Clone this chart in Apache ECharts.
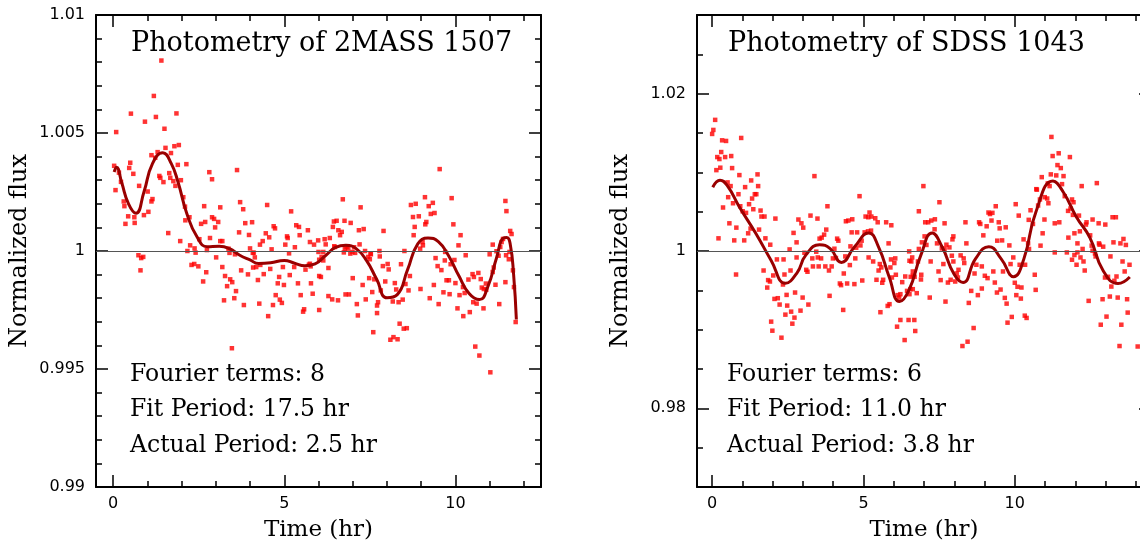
<!DOCTYPE html>
<html>
<head>
<meta charset="utf-8">
<script src="https://cdn.jsdelivr.net/npm/echarts@6/dist/echarts.min.js"></script>
<style>
html,body{margin:0;padding:0;background:#fff;}
#chart{width:1140px;height:544px;}
</style>
</head>
<body>
<div id="chart"></div>
<script>
// ---------------- DATA ----------------
// Left panel: 2MASS 1507 photometry (time in hr, normalized flux)
const leftTime = [1.41,1.19,0.52,1.85,1.25,0.93,1.50,0.09,1.53,1.79,1.92,1.69,1.30,1.12,1.23,1.89,2.14,0.03,0.50,0.47,0.17,0.23,0.07,0.59,0.76,1.35,1.38,1.47,1.64,1.67,1.76,1.82,1.98,2.81,2.89,3.62,1.01,0.31,0.33,0.62,0.63,0.36,0.44,0.90,1.03,1.12,1.15,2.05,2.10,2.11,2.23,1.61,1.96,2.17,2.25,2.38,2.41,2.52,2.57,2.66,2.69,2.83,2.74,2.89,2.95,3.07,2.98,3.13,3.13,3.19,3.01,3.37,3.56,3.68,3.71,3.80,3.86,3.97,4.00,4.06,4.11,4.14,4.29,4.37,4.50,4.46,4.56,4.63,4.69,4.73,5.03,5.08,5.10,5.14,5.20,5.31,5.35,5.43,5.45,5.69,5.75,5.87,5.99,6.00,
0.74,0.82,0.88,0.80,2.29,2.37,2.49,2.72,2.63,3.19,3.27,3.42,3.48,3.33,3.59,3.54,3.24,3.40,3.74,3.94,3.82,4.08,4.09,4.18,4.23,4.27,4.30,4.40,4.53,4.59,4.67,4.75,4.81,4.85,4.87,4.93,4.96,4.99,5.16,5.29,5.40,5.48,5.55,5.58,5.62,5.72,5.77,5.78,5.83,6.02,6.02,3.47,
9.54,6.71,7.23,8.70,8.84,9.11,9.22,9.34,9.28,9.39,8.76,8.93,9.89,9.94,8.81,8.78,9.15,9.12,10.15,10.09,10.30,11.46,11.49,11.60,11.64,11.39,11.35,11.09,11.31,11.20,11.26,11.00,6.42,6.45,6.53,6.76,6.94,6.58,6.68,6.63,7.18,7.32,7.90,6.18,6.33,6.48,6.77,6.87,6.74,7.20,7.04,6.99,6.93,7.07,7.36,7.52,7.45,7.78,8.51,8.97,9.05,6.14,6.09,9.04,
6.21,6.46,6.82,7.53,7.50,7.79,5.75,6.02,6.14,6.07,6.29,6.29,6.40,6.57,6.79,6.89,7.00,7.12,7.15,7.29,7.38,7.48,7.57,7.63,7.74,7.71,7.71,7.60,7.82,7.88,7.95,8.02,8.05,8.10,8.17,8.19,8.31,8.23,8.27,8.34,8.37,8.41,8.46,8.49,8.58,8.54,8.63,8.67,8.98,9.25,9.37,9.42,9.48,9.59,9.51,9.65,9.69,9.70,9.74,9.81,9.83,9.86,9.97,10.00,10.06,10.12,10.22,10.27,10.23,10.38,10.42,10.50,10.54,10.52,10.62,10.58,10.70,10.67,10.74,10.77,10.82,10.83,10.89,10.90,11.02,11.09,11.12,11.17,11.28,11.46,11.48,11.56,11.58,11.68,11.71,11.76];
const leftFlux = [1.00807,1.00657,1.00582,1.00583,1.00568,1.00548,1.00518,1.00504,1.00437,1.00444,1.00449,1.00415,1.00419,1.00406,1.00395,1.00365,1.00368,1.00361,1.00374,1.00352,1.00332,1.00293,1.00258,1.00327,1.00276,1.00318,1.00310,1.00292,1.00330,1.00310,1.00296,1.00276,1.00300,1.00334,1.00304,1.00343,1.00252,1.00210,1.00190,1.00143,1.00119,1.00115,1.00147,1.00152,1.00166,1.00210,1.00220,1.00228,1.00188,1.00130,1.00143,1.00076,1.00042,1.00000,1.00024,1.00011,0.99993,1.00050,1.00115,1.00190,1.00123,1.00055,1.00004,1.00143,1.00136,1.00123,1.00100,1.00185,1.00042,1.00042,0.99973,1.00010,0.99986,1.00079,1.00207,1.00177,1.00118,1.00068,1.00011,1.00122,0.99993,0.99973,1.00027,1.00042,1.00195,1.00075,1.00058,1.00007,1.00105,1.00096,1.00027,1.00062,1.00055,0.99990,1.00168,1.00016,1.00109,1.00102,1.00067,1.00088,1.00038,1.00027,1.00045,0.99996,
0.99982,0.99970,0.99975,0.99918,0.99941,0.99945,0.99935,0.99910,0.99871,0.99932,0.99894,0.99880,0.99868,0.99851,0.99830,0.99800,0.99791,0.99992,0.99918,0.99901,0.99771,0.99992,0.99930,0.99932,0.99877,0.99777,0.99941,0.99902,0.99724,0.99924,0.99771,0.99813,0.99863,0.99890,0.99794,0.99780,0.99932,0.99856,0.99898,0.99932,0.99863,0.99813,0.99743,0.99753,0.99921,0.99942,0.99935,0.99863,0.99819,0.99750,0.99894,0.99588,
1.00347,1.00219,1.00185,1.00195,1.00200,1.00228,1.00190,1.00204,1.00157,1.00161,1.00144,1.00147,1.00224,1.00113,1.00102,1.00067,1.00123,1.00113,1.00067,1.00024,0.99982,1.00212,1.00169,1.00085,1.00072,1.00051,1.00038,1.00027,1.00017,0.99999,0.99980,0.99986,1.00102,1.00125,1.00128,1.00128,1.00119,1.00088,1.00081,1.00067,1.00088,1.00093,1.00085,1.00050,1.00055,1.00017,1.00010,1.00010,0.99994,1.00028,1.00016,0.99996,0.99989,0.99992,1.00000,0.99989,0.99975,1.00000,1.00000,1.00010,1.00024,0.99996,0.99975,1.00038,
1.00028,1.00020,1.00017,0.99986,0.99965,0.99977,0.99946,0.99963,0.99960,0.99890,0.99928,0.99809,0.99795,0.99791,0.99816,0.99816,0.99885,0.99775,0.99727,0.99856,0.99795,0.99885,0.99826,0.99880,0.99783,0.99769,0.99737,0.99656,0.99833,0.99936,0.99871,0.99945,0.99922,0.99624,0.99786,0.99635,0.99626,0.99864,0.99837,0.99783,0.99692,0.99944,0.99794,0.99671,0.99673,0.99860,0.99833,0.99894,0.99839,0.99800,0.99856,0.99970,0.99936,0.99919,0.99775,0.99825,0.99960,0.99996,0.99876,0.99876,0.99817,0.99944,0.99962,0.99864,0.99757,0.99813,0.99847,0.99822,0.99724,0.99879,0.99741,0.99902,0.99890,0.99783,0.99777,0.99595,0.99557,0.99907,0.99881,0.99845,0.99757,0.99839,0.99862,0.99836,0.99486,0.99911,0.99930,0.99857,0.99775,0.99868,0.99982,0.99965,0.99996,0.99918,0.99847,0.99699];
// Left panel Fourier fit (8 terms)
const leftFitTime = [0.03,0.10,0.25,0.45,0.67,0.90,1.15,1.45,1.70,1.90,2.15,2.45,2.75,3.10,3.40,3.70,4.00,4.25,4.60,5.00,5.30,5.60,5.90,6.20,6.50,6.80,7.10,7.40,7.70,8.00,8.30,8.60,8.90,9.20,9.50,9.80,10.10,10.40,10.70,10.95,11.20,11.40,11.50,11.60,11.70,11.78];
const leftFitFlux = [1.00335,1.00355,1.00290,1.00200,1.00160,1.00250,1.00370,1.00416,1.00370,1.00290,1.00160,1.00060,1.00018,1.00020,1.00010,0.99982,0.99962,0.99947,0.99950,0.99960,0.99948,0.99937,0.99945,0.99980,1.00015,1.00024,1.00010,0.99960,0.99880,0.99802,0.99815,0.99920,1.00030,1.00055,1.00040,0.99980,0.99895,0.99820,0.99794,0.99850,0.99970,1.00055,1.00057,1.00030,0.99900,0.99710];

// Right panel: SDSS 1043 photometry
const rightTime = [0.10,0.04,0.00,0.33,0.46,0.96,0.30,0.17,0.24,0.43,0.63,0.14,0.27,0.66,0.90,1.50,1.29,3.38,0.51,0.61,1.09,1.52,1.41,1.46,1.32,0.87,0.53,0.69,1.22,0.93,1.01,1.12,1.36,0.36,1.60,1.63,1.73,2.09,0.57,0.80,1.27,1.55,1.19,0.21,0.73,1.06,1.76,1.92,2.56,2.85,2.95,3.01,3.25,3.48,2.69,2.79,3.05,3.55,3.62,3.70,3.77,3.81,4.04,4.13,4.17,4.42,4.50,4.63,4.61,4.79,4.87,4.57,4.76,4.90,4.94,5.04,5.07,5.16,5.26,5.39,5.47,5.20,5.15,5.25,5.75,5.92,5.83,6.51,6.83,2.79,3.31,3.60,3.44,2.14,2.36,3.99,4.40,4.73,
0.79,1.70,1.85,1.91,1.82,2.02,2.39,2.34,2.06,2.17,2.23,1.95,1.99,2.29,2.46,2.48,2.42,2.61,2.72,2.65,2.59,2.74,2.92,2.99,3.11,3.15,3.18,3.33,3.49,3.52,3.74,3.86,3.95,3.88,4.09,4.22,4.26,4.33,4.35,4.46,4.55,4.70,4.96,5.17,5.32,5.43,5.50,5.54,5.56,5.62,5.65,5.59,5.80,5.86,5.91,6.05,6.02,5.89,5.94,6.07,6.13,6.22,6.18,6.28,6.11,6.22,6.36,6.49,6.38,6.44,6.52,6.55,6.58,6.61,6.63,6.71,6.76,
11.21,11.25,11.45,11.82,11.41,11.52,11.19,11.37,11.61,10.89,11.09,11.15,11.56,12.21,12.71,6.98,10.71,10.73,7.51,10.83,10.99,11.07,11.11,11.65,11.89,11.94,10.77,10.03,9.37,9.13,9.26,9.18,10.52,11.84,11.76,10.13,7.04,7.14,7.24,7.36,7.68,8.37,8.82,8.86,9.07,9.23,9.47,9.50,9.70,10.46,10.60,10.98,11.32,11.47,11.92,12.12,12.37,12.57,12.77,12.99,13.23,13.34,7.02,6.93,7.08,7.35,7.68,7.94,7.97,7.84,8.40,8.96,9.42,9.58,9.82,9.95,10.29,10.44,10.47,10.85,10.92,11.32,11.77,11.97,12.07,12.15,12.24,12.35,12.49,12.54,12.78,12.92,13.26,13.49,13.59,13.67,6.83,7.43,8.21,8.31,
7.59,7.74,7.92,6.52,6.56,6.63,6.69,6.63,6.80,6.91,6.90,7.19,7.22,7.48,7.55,7.71,6.68,7.64,7.79,7.88,7.97,8.08,8.14,8.33,8.03,8.12,8.48,8.56,8.64,8.44,8.27,8.67,8.73,8.91,8.78,8.91,9.01,9.10,9.29,9.34,9.41,9.53,9.61,9.67,9.73,9.76,9.86,9.90,10.00,10.09,10.05,10.16,10.22,10.20,10.33,10.39,10.34,10.66,10.69,11.72,11.89,11.97,12.04,12.17,12.27,12.31,12.07,12.44,12.57,12.65,12.67,12.80,12.84,12.90,12.98,13.08,13.03,13.14,13.16,13.19,13.29,13.36,13.40,13.46,13.52,13.56,13.63,13.71,13.73,13.79,14.06];
const rightFlux = [1.01667,1.01539,1.01488,1.01407,1.01399,1.01437,1.01258,1.01194,1.01169,1.01194,1.01207,1.01028,1.01059,1.01054,1.00965,1.00974,1.00897,1.00952,1.00872,1.00825,1.00812,1.00825,1.00722,1.00722,1.00667,1.00722,1.00684,1.00607,1.00595,1.00569,1.00505,1.00485,1.00531,1.00553,1.00514,1.00438,1.00438,1.00412,1.00352,1.00297,1.00285,1.00272,1.00225,1.00161,1.00135,1.00135,1.00161,1.00080,1.00020,1.00400,1.00352,1.00297,1.00450,1.00412,1.00230,1.00110,0.99978,1.00157,1.00170,1.00208,1.00272,1.00569,1.00029,1.00157,1.00131,1.00378,1.00387,1.00403,1.00237,1.00237,1.00697,1.00059,1.00042,1.00071,1.00131,1.00237,1.00438,1.00429,1.00438,1.00416,1.00365,1.00489,1.00250,1.00259,1.00365,1.00327,1.00097,0.99995,1.00505,0.99918,0.99906,0.99906,0.99991,0.99893,0.99893,0.99906,0.99931,0.99906,
0.99701,0.99752,0.99630,0.99612,0.99535,0.99689,0.99701,0.99574,0.99391,0.99400,0.99319,0.99102,0.98987,0.98898,0.99442,0.99306,0.99191,0.99229,0.99153,0.99076,0.99752,0.99472,0.99242,0.99408,0.99761,0.99736,0.99319,0.99804,0.99918,0.99804,0.99804,0.99752,0.99804,0.99430,0.99911,0.99587,0.99566,0.99251,0.99714,0.99587,0.99821,0.99579,0.99625,0.99918,0.99867,0.99634,0.99752,0.99834,0.99222,0.99596,0.99634,0.99791,0.99302,0.99324,0.99893,0.99906,0.99847,0.99791,0.99663,0.99698,0.99439,0.99451,0.99408,0.99604,0.99038,0.99123,0.98868,0.99123,0.99676,0.99493,0.99451,0.99515,0.99867,0.99918,0.99689,0.98983,0.99464,
1.01450,1.01207,1.01242,1.01194,1.01092,1.01054,1.00974,1.00961,1.00952,1.00939,1.00859,1.00825,1.00850,1.00825,1.00863,1.00825,1.00786,1.00780,1.00620,1.00655,1.00684,1.00667,1.00607,1.00697,1.00655,1.00620,1.00578,1.00595,1.00569,1.00489,1.00485,1.00470,1.00518,1.00540,1.00510,1.00450,1.00365,1.00365,1.00387,1.00403,1.00352,1.00365,1.00365,1.00344,1.00314,1.00387,1.00365,1.00288,1.00301,1.00396,1.00344,1.00400,1.00352,1.00365,1.00459,1.00450,1.00365,1.00400,1.00352,1.00336,1.00429,1.00429,1.00186,1.00110,1.00077,1.00276,1.00026,1.00148,1.00186,1.00046,1.00097,1.00199,1.00131,1.00135,1.00071,0.99918,1.00148,1.00097,1.00026,1.00068,1.00225,0.99982,1.00170,1.00225,1.00097,1.00250,1.00026,1.00336,1.00199,1.00068,1.00097,1.00055,1.00110,1.00097,1.00153,1.00077,1.00026,1.00097,0.99944,0.99906,
1.00033,1.00080,0.99940,0.99876,0.99672,0.99740,0.99672,0.99515,0.99867,0.99698,0.99638,0.99408,0.99867,0.99740,0.99630,0.99357,0.99123,0.99834,0.99599,0.99634,0.99867,0.99714,0.99761,0.99847,0.99612,0.99663,0.99340,0.99493,0.99021,0.98847,0.98792,0.99714,0.99825,0.99804,0.99439,0.99523,0.99685,0.99655,0.99740,0.99599,0.99472,0.99510,0.99740,0.99404,0.99331,0.99089,0.99834,0.99162,0.99596,0.99545,0.99439,0.99825,0.99536,0.99395,0.99178,0.99149,0.99825,0.99698,0.99506,0.99982,0.99889,0.99949,0.99825,0.99918,0.99867,0.99752,0.99982,0.99366,1.00004,0.99969,0.99931,1.00080,0.99063,0.99387,0.99663,0.99672,0.99166,0.99421,0.99931,0.99548,0.99621,0.99676,0.99408,0.98792,0.99063,0.99867,0.99740,0.99387,0.99217,0.99825,0.98786];
// Right panel Fourier fit (6 terms)
const rightFitTime = [0.02,0.26,0.50,0.90,1.45,1.95,2.42,2.80,3.10,3.55,3.90,4.27,4.70,5.17,5.50,5.85,6.19,6.50,6.90,7.27,7.60,8.00,8.29,8.70,9.14,9.55,9.96,10.30,10.70,11.26,11.60,12.04,12.48,12.92,13.41,13.80];
const rightFitFlux = [1.0081,1.0090,1.0083,1.0056,1.0022,0.9988,0.9959,0.9972,0.9995,1.0008,1.0003,0.99855,1.0005,1.0023,1.0005,0.9967,0.99357,0.9950,0.9995,1.0023,1.0005,0.9970,0.9960,0.9990,1.00055,0.9990,0.99672,0.9990,1.0050,1.0089,1.0075,1.0043,1.0017,0.9975,0.99587,0.9967];

// Axis ticks and labels
const leftXMajor = [0, 5, 10];
const leftXMajorLabels = ['0', '5', '10'];
const leftXMinor = [0,1,2,3,4,5,6,7,8,9,10,11,12];
const leftYMajor = [0.99, 0.995, 1, 1.005, 1.01];
const leftYMajorLabels = ['0.99', '0.995', '1', '1.005', '1.01'];
const leftYMinor = [0.99,0.991,0.992,0.993,0.994,0.995,0.996,0.997,0.998,0.999,1,1.001,1.002,1.003,1.004,1.005,1.006,1.007,1.008,1.009,1.01];
const rightXMajor = [0, 5, 10];
const rightXMajorLabels = ['0', '5', '10'];
const rightXMinor = [0,1,2,3,4,5,6,7,8,9,10,11,12,13,14];
const rightYMajor = [0.98, 1, 1.02];
const rightYMajorLabels = ['0.98', '1', '1.02'];
const rightYMinor = [0.97,0.975,0.98,0.985,0.99,0.995,1,1.005,1.01,1.015,1.02,1.025,1.03];

const leftTitle = 'Photometry of 2MASS 1507';
const rightTitle = 'Photometry of SDSS 1043';
const leftNotes = ['Fourier terms: 8', 'Fit Period: 17.5 hr', 'Actual Period: 2.5 hr'];
const rightNotes = ['Fourier terms: 6', 'Fit Period: 11.0 hr', 'Actual Period: 3.8 hr'];

// ---------------- CHART ----------------
const SERIF = "'DejaVu Serif', 'Liberation Serif', serif";
const SANS = "'DejaVu Sans', 'Liberation Sans', sans-serif";
const pairs = (a, b) => a.map((v, i) => [v, b[i]]);
const lab = (vals, labels) => v => { const i = vals.findIndex(t => Math.abs(t - v) < 1e-9); return i >= 0 ? labels[i] : ''; };

function xAxes(grid, min, max, major, labels, minor) {
  const base = { gridIndex: grid, type: 'value', min, max, splitLine: { show: false } };
  const line = { show: true, onZero: false, lineStyle: { color: '#000', width: 2 } };
  const tickStyle = { color: '#000', width: 1.5 };
  return [
    Object.assign({}, base, { position: 'bottom', axisLine: line,
      axisTick: { show: true, inside: true, length: 12, customValues: major, lineStyle: tickStyle },
      axisLabel: { show: true, customValues: major, formatter: lab(major, labels), margin: 9, color: '#000', fontFamily: SANS, fontSize: 16 },
      name: 'Time (hr)', nameLocation: 'middle', nameGap: 32,
      nameTextStyle: { fontFamily: SERIF, fontSize: 23, color: '#000' } }),
    Object.assign({}, base, { position: 'bottom', axisLine: { show: false, onZero: false },
      axisTick: { show: true, inside: true, length: 6, customValues: minor, lineStyle: tickStyle }, axisLabel: { show: false } }),
    Object.assign({}, base, { position: 'top', axisLine: line,
      axisTick: { show: true, inside: true, length: 12, customValues: major, lineStyle: tickStyle }, axisLabel: { show: false } }),
    Object.assign({}, base, { position: 'top', axisLine: { show: false, onZero: false },
      axisTick: { show: true, inside: true, length: 6, customValues: minor, lineStyle: tickStyle }, axisLabel: { show: false } })
  ];
}
function yAxes(grid, min, max, major, labels, minor) {
  const base = { gridIndex: grid, type: 'value', min, max, splitLine: { show: false }, scale: true };
  const line = { show: true, onZero: false, lineStyle: { color: '#000', width: 2 } };
  const tickStyle = { color: '#000', width: 1.5 };
  return [
    Object.assign({}, base, { position: 'left', axisLine: line,
      axisTick: { show: true, inside: true, length: 12, customValues: major, lineStyle: tickStyle },
      axisLabel: { show: true, customValues: major, formatter: lab(major, labels), margin: 11, color: '#000', fontFamily: SANS, fontSize: 16 },
      name: 'Normalized flux', nameLocation: 'middle', nameGap: 64, nameRotate: 90,
      nameTextStyle: { fontFamily: SERIF, fontSize: 24, color: '#000' } }),
    Object.assign({}, base, { position: 'left', axisLine: { show: false, onZero: false },
      axisTick: { show: true, inside: true, length: 6, customValues: minor, lineStyle: tickStyle }, axisLabel: { show: false } }),
    Object.assign({}, base, { position: 'right', axisLine: line,
      axisTick: { show: true, inside: true, length: 12, customValues: major, lineStyle: tickStyle }, axisLabel: { show: false } }),
    Object.assign({}, base, { position: 'right', axisLine: { show: false, onZero: false },
      axisTick: { show: true, inside: true, length: 6, customValues: minor, lineStyle: tickStyle }, axisLabel: { show: false } })
  ];
}

const titleStyle = { fontFamily: SERIF, fontSize: 27, fontWeight: 'normal', color: '#000' };
const noteStyle = { fontFamily: SERIF, fontSize: 23.5, fontWeight: 'normal', color: '#000' };
const titles = [
  { text: leftTitle, left: 131, top: 30, padding: 0, textStyle: titleStyle },
  { text: rightTitle, left: 728, top: 30, padding: 0, textStyle: titleStyle }
];
const noteTops = [363, 398, 434];
leftNotes.forEach((t, i) => titles.push({ text: t, left: 130, top: noteTops[i], padding: 0, textStyle: noteStyle }));
rightNotes.forEach((t, i) => titles.push({ text: t, left: 727, top: noteTops[i], padding: 0, textStyle: noteStyle }));

const zeroLine = { symbol: 'none', silent: true, label: { show: false }, animation: false,
  lineStyle: { color: '#555', width: 1, type: 'solid' }, data: [{ yAxis: 1 }] };

const option = {
  backgroundColor: '#fff',
  animation: false,
  title: titles,
  grid: [
    { left: 96, top: 15, width: 445, height: 472, containLabel: false, outerBoundsMode: 'none' },
    { left: 697, top: 15, width: 454, height: 472, containLabel: false, outerBoundsMode: 'none' }
  ],
  xAxis: [].concat(xAxes(0, -0.5, 12.5, leftXMajor, leftXMajorLabels, leftXMinor),
                   xAxes(1, -0.5, 14.5, rightXMajor, rightXMajorLabels, rightXMinor)),
  yAxis: [].concat(yAxes(0, 0.99, 1.01, leftYMajor, leftYMajorLabels, leftYMinor),
                   yAxes(1, 0.97, 1.03, rightYMajor, rightYMajorLabels, rightYMinor)),
  series: [
    { type: 'scatter', xAxisIndex: 0, yAxisIndex: 0, data: pairs(leftTime, leftFlux),
      symbol: 'rect', symbolSize: 4.5, itemStyle: { color: '#ff0000' }, z: 3, markLine: zeroLine },
    { type: 'line', xAxisIndex: 0, yAxisIndex: 0, data: pairs(leftFitTime, leftFitFlux),
      smooth: 0.5, showSymbol: false, lineStyle: { color: '#990000', width: 3 }, z: 4 },
    { type: 'scatter', xAxisIndex: 4, yAxisIndex: 4, data: pairs(rightTime, rightFlux),
      symbol: 'rect', symbolSize: 4.5, itemStyle: { color: '#ff0000' }, z: 3, markLine: zeroLine },
    { type: 'line', xAxisIndex: 4, yAxisIndex: 4, data: pairs(rightFitTime, rightFitFlux),
      smooth: 0.5, showSymbol: false, lineStyle: { color: '#990000', width: 3 }, z: 4 }
  ]
};

const chart = echarts.init(document.getElementById('chart'), null, { renderer: 'canvas' });
chart.setOption(option);
</script>
</body>
</html>
